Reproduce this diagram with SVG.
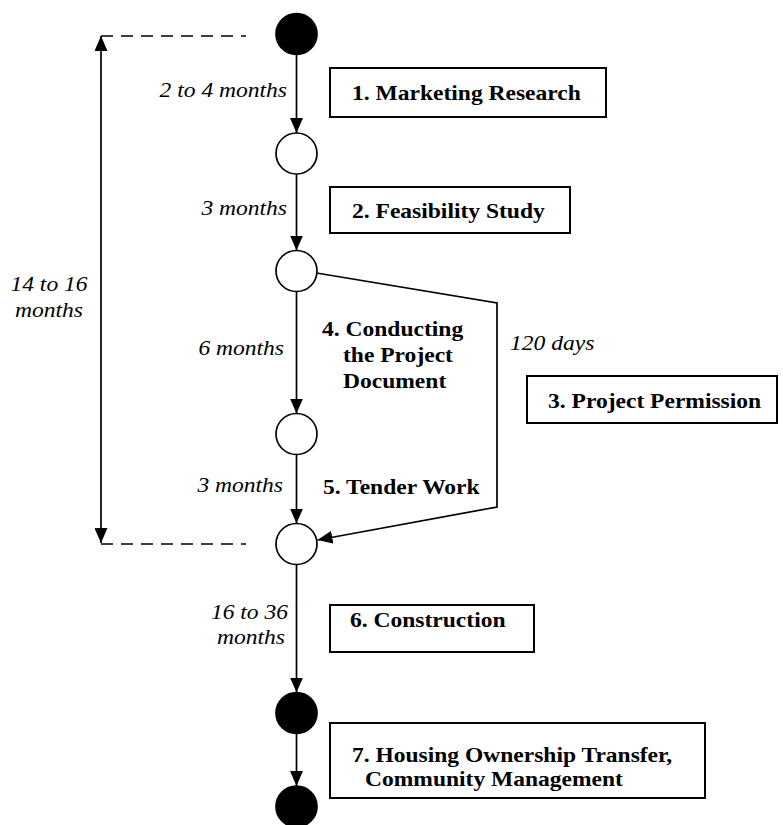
<svg xmlns="http://www.w3.org/2000/svg" width="783" height="825" viewBox="0 0 783 825">
<style>
text{font-family:"Liberation Serif","Times New Roman",serif;font-size:22px;fill:#000}
.it{font-style:italic}
.b{font-weight:bold}
.e{text-anchor:end}
.m{text-anchor:middle}
.sm{font-size:21px}
.box{fill:#fff;stroke:#000;stroke-width:2}
.o{fill:#fff;stroke:#000;stroke-width:1.7}
.f{fill:#000;stroke:#000;stroke-width:1.7}
.ln{fill:none;stroke:#000;stroke-width:1.7}
.ds{fill:none;stroke:#000;stroke-width:1.7;stroke-dasharray:12 8}
</style>
<defs>
<marker id="ah" viewBox="0 0 15 13" refX="15" refY="6.5" markerWidth="15" markerHeight="13" markerUnits="userSpaceOnUse" orient="auto-start-reverse">
<path d="M0,0 L15,6.5 L0,13 z" fill="#000"/>
</marker>
</defs>
<rect width="783" height="825" fill="#fff"/>
<g id="connectors">
<path class="ln" d="M296.5,54.5 V133" marker-end="url(#ah)"/>
<path class="ln" d="M296.5,174 V250.5" marker-end="url(#ah)"/>
<path class="ln" d="M296.5,291.5 V413.5" marker-end="url(#ah)"/>
<path class="ln" d="M296.5,454.5 V523.5" marker-end="url(#ah)"/>
<path class="ln" d="M296.5,564.5 V692.5" marker-end="url(#ah)"/>
<path class="ln" d="M296.5,733.5 V786" marker-end="url(#ah)"/>
<path class="ln" d="M316.5,273 L497,303 L497,507 L317.5,540" marker-end="url(#ah)"/>
<path class="ln" d="M101,36 V543" marker-start="url(#ah)" marker-end="url(#ah)"/>
<path class="ds" d="M101,36 H246"/>
<path class="ds" d="M101,544 H246"/>
</g>
<g id="n1"><circle class="f" cx="296.5" cy="34" r="20.5"/></g>
<g id="n2"><circle class="o" cx="296.5" cy="153.5" r="20.5"/></g>
<g id="n3"><circle class="o" cx="296.5" cy="271" r="20.5"/></g>
<g id="n4"><circle class="o" cx="296.5" cy="434" r="20.5"/></g>
<g id="n5"><circle class="o" cx="296.5" cy="544" r="20.5"/></g>
<g id="n6"><circle class="f" cx="296.5" cy="713" r="20.5"/></g>
<g id="n7"><circle class="f" cx="296.5" cy="806.5" r="20.5"/></g>
<g id="step1"><rect class="box" x="330" y="68" width="276" height="49"/><text class="b" transform="translate(352,100) scale(1.07,1)">1. Marketing Research</text></g>
<g id="step2"><rect class="box" x="330" y="187" width="240" height="46"/><text class="b" transform="translate(352,218) scale(1.07,1)">2. Feasibility Study</text></g>
<g id="step3"><rect class="box" x="527" y="376" width="250" height="47"/><text class="b" transform="translate(548,408) scale(1.07,1)">3. Project Permission</text></g>
<g id="step4"><text class="b" transform="translate(322,336) scale(1.07,1)">4. Conducting</text><text class="b" transform="translate(343,362) scale(1.07,1)">the Project</text><text class="b" transform="translate(343,388) scale(1.07,1)">Document</text></g>
<g id="step5"><text class="b" transform="translate(323,494) scale(1.07,1)">5. Tender Work</text></g>
<g id="step6"><rect class="box" x="330" y="605" width="204" height="47"/><text class="b" transform="translate(350,627) scale(1.07,1)">6. Construction</text></g>
<g id="step7"><rect class="box" x="330" y="723" width="375" height="75"/><text class="b sm" transform="translate(352,762) scale(1.12,1)">7. Housing Ownership Transfer,</text><text class="b sm" transform="translate(365,786) scale(1.12,1)">Community Management</text></g>
<g id="labels">
<text class="it e" transform="translate(287,97) scale(1.07,1)">2 to 4 months</text>
<text class="it e" transform="translate(287,215) scale(1.07,1)">3 months</text>
<text class="it e" transform="translate(284,355) scale(1.07,1)">6 months</text>
<text class="it e" transform="translate(283,492) scale(1.07,1)">3 months</text>
<text class="it e" transform="translate(288,619) scale(1.07,1)">16 to 36</text>
<text class="it e" transform="translate(285,644) scale(1.07,1)">months</text>
<text class="it m" transform="translate(49,291) scale(1.07,1)">14 to 16</text>
<text class="it m" transform="translate(49,317) scale(1.07,1)">months</text>
<text class="it" transform="translate(510,350) scale(1.07,1)">120 days</text>
</g>
</svg>
